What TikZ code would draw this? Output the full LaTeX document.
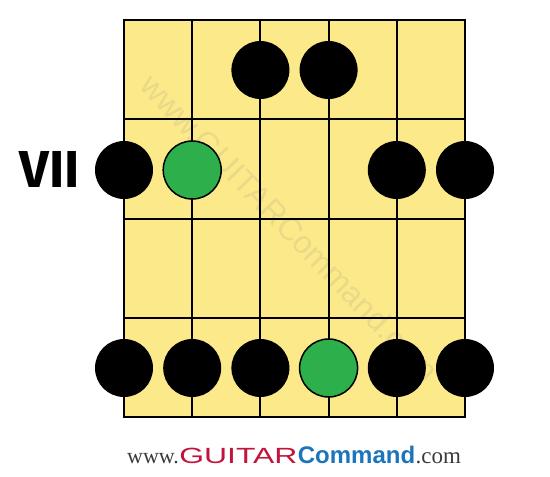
\documentclass[tikz,border=0pt]{standalone}
\usepackage{fontspec}
\setmainfont{Liberation Serif}
\newfontfamily\fretfont{Fira Sans}
\newfontfamily\cmdfont{Liberation Sans}
\newfontfamily\brandfont[FakeStretch=1.45]{Liberation Sans}
\usetikzlibrary{positioning}
\definecolor{boardyellow}{HTML}{FBE98A}
\definecolor{rootgreen}{HTML}{2DB04B}
\definecolor{brandred}{HTML}{C0143C}
\definecolor{brandblue}{HTML}{1B75BC}
\definecolor{urlgray}{HTML}{3A3A3A}
\tikzset{
  note/.style={circle, fill=black, minimum size=58pt, inner sep=0pt},
  root/.style={note, fill=rootgreen, draw=black, line width=1.5pt},
  wire/.style={line width=2pt, line cap=rect},
  url/.style={inner sep=0pt, anchor=base west}
}
\begin{document}
\begin{tikzpicture}[x=1pt,y=-1pt]
  \useasboundingbox (0,0) rectangle (550,477);
  % board
  \fill[boardyellow] (124,20) rectangle (465,417);
  \node[rotate=-46, text=gray, opacity=.14, font=\cmdfont\fontsize{32}{32}\selectfont] (mark) at (290,228) {www.GUITARCommand.com};
  \foreach \s in {0,...,5}
    \draw[wire] (124+\s*68.2,20) -- (124+\s*68.2,417);
  \foreach \f in {0,...,4}
    \draw[wire] (124,20+\f*99.25) -- (465,20+\f*99.25);
  \draw[line width=2.5pt] (124,20) rectangle (465,417);

  % fret label
  \node[font=\fretfont\bfseries\fontsize{52}{52}\selectfont] (pos) at (50,169) {VII};

  % notes
  \node[note] (n1-3) at (260.4,70) {};
  \node[note] (n1-4) at (328.6,70) {};
  \node[note] (n2-1) at (124,170) {};
  \node[root] (n2-2) at (192.2,170) {};
  \node[note] (n2-5) at (396.8,170) {};
  \node[note] (n2-6) at (465,170) {};
  \foreach \s/\x in {1/124,2/192.2,3/260.4,5/396.8,6/465}
    \node[note] (n4-\s) at (\x,368) {};
  \node[root] (n4-4) at (328.6,368) {};

  % site address
  \node[url, text=urlgray, font=\fontsize{22}{22}\selectfont] (www) at (127,463) {www.};
  \node[url, text=brandred, font=\brandfont\fontsize{22}{22}\selectfont] (brand) at (www.base east) {GUITAR};
  \node[url, text=brandblue, font=\cmdfont\bfseries\fontsize{24}{24}\selectfont] (cmd) at (brand.base east) {Command};
  \node[url, text=urlgray, font=\fontsize{23}{23}\selectfont] (com) at (cmd.base east) {.com};
\end{tikzpicture}
\end{document}
